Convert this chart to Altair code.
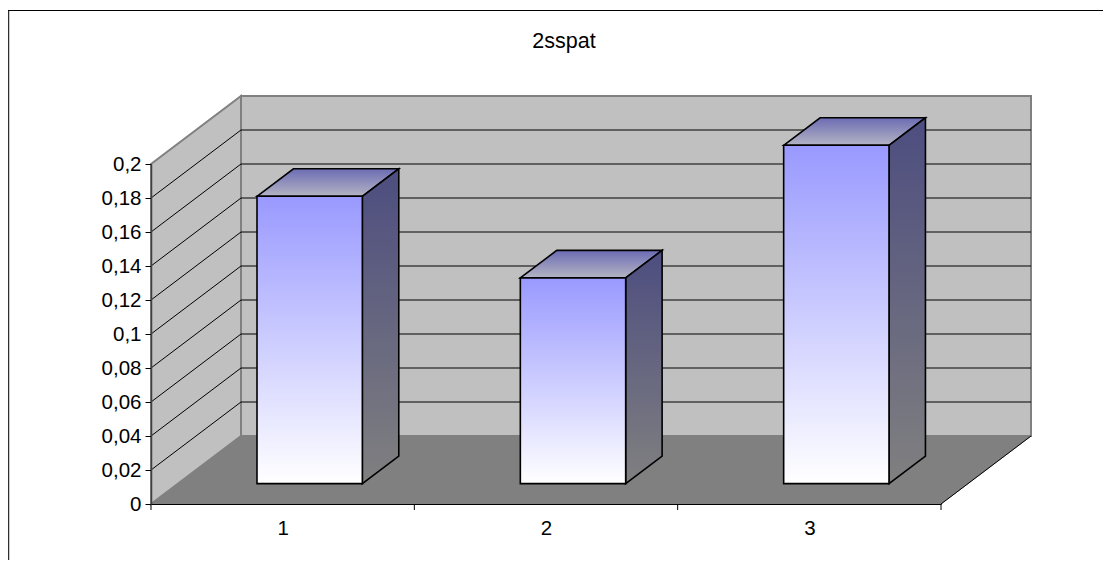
import altair as alt
import pandas as pd

categories = [1, 2, 3]
values = [0.169, 0.121, 0.199]
y_ticks = [0, 0.02, 0.04, 0.06, 0.08, 0.1, 0.12, 0.14, 0.16, 0.18, 0.2]
grid_values = [0.02, 0.04, 0.06, 0.08, 0.1, 0.12, 0.14, 0.16, 0.18]
x_edges = [0.5, 1.5, 2.5, 3.5]
title_text = "2sspat"

XMIN, XMAX, YMIN, YMAX = 0.5, 3.5, 0.0, 0.2
W, H = 790, 340
DX = 90 / (W / 3)        # wall depth in category units
DY = 68 / (H / YMAX)     # wall depth in value units
F0, F1 = 0.30, 0.705     # bar depth span as a share of the floor depth
BAR = 0.40               # bar width share of slot
FONT = "Liberation Sans"

xs = alt.Scale(domain=[XMIN, XMAX])
ys = alt.Scale(domain=[YMIN, YMAX])
AX = alt.Axis(
    values=categories, grid=False, ticks=False, domainColor="black", domainWidth=1.2,
    labelFont=FONT, labelFontSize=20.5, labelColor="black", labelPadding=14,
    format="d", zindex=1, title=None)
AY = alt.Axis(
    values=y_ticks, grid=False, tickColor="black", tickSize=6, domainColor="#404040",
    domainWidth=1.5, labelFont=FONT, labelFontSize=20.5, labelColor="black", labelPadding=4,
    labelExpr="replace(toString(round(datum.value*100)/100), '.', ',')", zindex=1, title=None)
X = lambda f="x": alt.X(f"{f}:Q", scale=xs, axis=AX)
Y = lambda f="y": alt.Y(f"{f}:Q", scale=ys, axis=AY)
Y2 = alt.Y2("y2:Q")
X2 = alt.X2("x2:Q")


def grad(top, bottom):
    return alt.Gradient(
        gradient="linear",
        stops=[alt.GradientStop(offset=0, color=top), alt.GradientStop(offset=1, color=bottom)],
        x1=0, x2=0, y1=0, y2=1,
    )


# walls and floor
left_wall = pd.DataFrame({"x": [XMIN, XMIN + DX], "y": [YMAX, YMAX + DY], "y2": [YMIN, YMIN + DY]})
back_wall = pd.DataFrame({"x": [XMIN + DX], "x2": [XMAX + DX], "y": [YMAX + DY], "y2": [DY]})
floor = pd.DataFrame({
    "x": [XMIN, XMIN + DX, XMAX, XMAX + DX],
    "y": [0, DY, DY, DY],
    "y2": [0, 0, 0, DY],
})
floor_edge = pd.DataFrame({"x": [XMAX, XMAX + DX], "y": [0, DY]})

wall_style = dict(fill="#C0C0C0", stroke="#808080", strokeWidth=2)
layers = [
    alt.Chart(left_wall).mark_area(**wall_style).encode(x=X(), y=Y(), y2=Y2),
    alt.Chart(back_wall).mark_rect(**wall_style).encode(x=X(), x2=X2, y=Y(), y2=Y2),
]

# gridlines
side_rows, back_rows = [], []
for v in grid_values:
    side_rows += [{"g": v, "x": XMIN, "y": v}, {"g": v, "x": XMIN + DX, "y": v + DY}]
    back_rows.append({"x": XMIN + DX, "x2": XMAX + DX, "y": v + DY})
layers += [
    alt.Chart(pd.DataFrame(side_rows)).mark_line(color="black", strokeWidth=1).encode(
        x=X(), y=Y(), detail="g:N"),
    alt.Chart(pd.DataFrame(back_rows)).mark_rule(color="black", strokeWidth=1).encode(
        x=X(), x2=X2, y=Y()),
    alt.Chart(floor).mark_area(fill="#808080", stroke="#808080", strokeWidth=1).encode(
        x=X(), y=Y(), y2=Y2),
    alt.Chart(floor_edge).mark_line(color="black", strokeWidth=1).encode(x=X(), y=Y()),
]

# bars
front, side, top = [], [], []
for c, v in zip(categories, values):
    xl, xr = c - BAR / 2, c + BAR / 2
    a, b = F0 * DX, F1 * DX
    p, q = F0 * DY, F1 * DY
    front.append({"x": xl + a, "x2": xr + a, "y": v + p, "y2": p})
    side += [
        {"b": c, "x": xr + a, "y": v + p, "y2": p},
        {"b": c, "x": xr + b, "y": v + q, "y2": q},
    ]
    top += [
        {"b": c, "x": xl + a, "y": v + p, "y2": v + p},
        {"b": c, "x": xl + b, "y": v + q, "y2": v + p},
        {"b": c, "x": xr + a, "y": v + q, "y2": v + p},
        {"b": c, "x": xr + b, "y": v + q, "y2": v + q},
    ]

edge = dict(stroke="black", strokeWidth=1.6, strokeJoin="miter")
layers += [
    alt.Chart(pd.DataFrame(top)).mark_area(fill=grad("#6C6CB4", "#B4B4C4"), **edge).encode(
        x=X(), y=Y(), y2=Y2, detail="b:N"),
    alt.Chart(pd.DataFrame(side)).mark_area(fill=grad("#4D4D80", "#808080"), **edge).encode(
        x=X(), y=Y(), y2=Y2, detail="b:N"),
    alt.Chart(pd.DataFrame(front)).mark_rect(fill=grad("#9999FF", "#FFFFFF"), **edge).encode(
        x=X(), x2=X2, y=Y(), y2=Y2),
]

# ticks on the category boundaries
tick_df = pd.DataFrame({"x": x_edges})
layers += [
    alt.Chart(tick_df).mark_rule(color="black", strokeWidth=1).encode(
        x=X(), y=alt.value(H), y2=alt.value(H + 6)),
]

# chart frame (left and top edges)
layers += [
    alt.Chart(pd.DataFrame({"k": [0]})).mark_rule(color="#303030", strokeWidth=1.5).encode(
        x=alt.value(-142.5), y=alt.value(-153.5), y2=alt.value(396)),
    alt.Chart(pd.DataFrame({"k": [0]})).mark_rule(color="black", strokeWidth=1.2).encode(
        x=alt.value(-143), x2=alt.value(952), y=alt.value(-153.5)),
]

chart = alt.layer(*layers).properties(
    width=W,
    height=H,
    title=alt.TitleParams(title_text, font=FONT, fontSize=21.5, fontWeight="normal", color="black",
                          anchor="middle", dx=18, offset=-60, baseline="alphabetic"),
    padding={"left": 143, "top": 156, "right": 162, "bottom": 56},
    autosize=alt.AutoSizeParams(type="none"),
    background="white",
).configure_view(stroke=None)

chart.save("out.html", embed_options={"renderer": "svg", "actions": False})
